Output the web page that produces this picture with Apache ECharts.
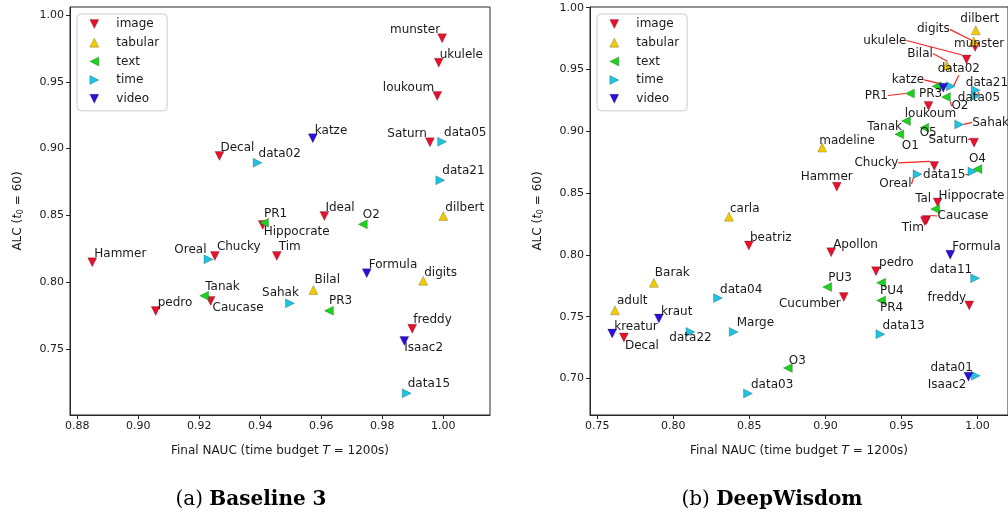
<!DOCTYPE html>
<html><head><meta charset="utf-8">
<script src="https://cdn.jsdelivr.net/npm/echarts/dist/echarts.min.js"></script>
<style>html,body{margin:0;padding:0;background:#fff}#c{width:1008px;height:520px}</style>
</head><body><div id="c"></div><script>
// ---------- categories ----------
const categories = ['image', 'tabular', 'text', 'time', 'video'];

// ---------- tick labels ----------
const xTicksA = [0.88, 0.90, 0.92, 0.94, 0.96, 0.98, 1.00];
const yTicksA = [0.75, 0.80, 0.85, 0.90, 0.95, 1.00];
const xTicksB = [0.75, 0.80, 0.85, 0.90, 0.95, 1.00];
const yTicksB = [0.70, 0.75, 0.80, 0.85, 0.90, 0.95, 1.00];

// ---------- (a) Baseline 3 : [name, final NAUC, ALC] ----------
const baseImage = [
  ['munster', 0.9996, 0.9826], ['ukulele', 0.9985, 0.9643], ['loukoum', 0.9980, 0.9394],
  ['Saturn', 0.9956, 0.9047], ['Decal', 0.9266, 0.8945], ['Ideal', 0.9610, 0.8496],
  ['Hippocrate', 0.9408, 0.8428], ['Hammer', 0.8849, 0.8149], ['Chucky', 0.9251, 0.8196],
  ['Tim', 0.9454, 0.8196], ['pedro', 0.9057, 0.7784], ['Caucase', 0.9237, 0.7859],
  ['freddy', 0.9898, 0.7652]
];
const baseTabular = [['dilbert', 1.0000, 0.8496], ['Bilal', 0.9574, 0.7942], ['digits', 0.9934, 0.8011]];
const baseText = [['PR1', 0.9412, 0.8445], ['O2', 0.9736, 0.8433], ['Tanak', 0.9216, 0.7899], ['PR3', 0.9625, 0.7787]];
const baseTime = [
  ['data05', 0.9996, 0.9052], ['data02', 0.9391, 0.8894], ['data21', 0.9990, 0.8763],
  ['Oreal', 0.9230, 0.8171], ['Sahak', 0.9497, 0.7842], ['data15', 0.9880, 0.7168]
];
const baseVideo = [['katze', 0.9572, 0.9077], ['Formula', 0.9749, 0.8067], ['Isaac2', 0.9872, 0.7560]];

// ---------- (b) DeepWisdom ----------
const dwImage = [
  ['munster', 0.9985, 0.9682], ['ukulele', 0.9928, 0.9581], ['loukoum', 0.9678, 0.9204],
  ['Saturn', 0.9978, 0.8908], ['Chucky', 0.9716, 0.8720], ['Hippocrate', 0.9738, 0.8424],
  ['Caucase', 0.9665, 0.8282], ['Tim', 0.9654, 0.8273], ['Hammer', 0.9075, 0.8551],
  ['beatriz', 0.8497, 0.8075], ['Decal', 0.7675, 0.7331], ['Apollon', 0.9038, 0.8021],
  ['pedro', 0.9333, 0.7868], ['Cucumber', 0.9121, 0.7658], ['freddy', 0.9946, 0.7591]
];
const dwTabular = [
  ['dilbert', 0.9989, 0.9817], ['digits', 0.9976, 0.9728], ['Bilal', 0.9799, 0.9532],
  ['madeline', 0.8979, 0.8868], ['carla', 0.8366, 0.8309], ['Barak', 0.7872, 0.7774],
  ['adult', 0.7616, 0.7551]
];
const dwText = [
  ['PR1', 0.9556, 0.9306], ['PR3', 0.9731, 0.9365], ['O2', 0.9793, 0.9277],
  ['Tanak', 0.9530, 0.9083], ['O1', 0.9486, 0.8976], ['O5', 0.9650, 0.9029],
  ['O4', 1.0000, 0.8694], ['Tal', 0.9722, 0.8371], ['PU3', 0.9012, 0.7739],
  ['PU4', 0.9366, 0.7774], ['PR4', 0.9366, 0.7631], ['O3', 0.8753, 0.7085]
];
const dwTime = [
  ['data02', 0.9825, 0.9365], ['data21', 0.9989, 0.9333], ['data05', 0.9989, 0.9285],
  ['Sahak', 0.9880, 0.9056], ['Oreal', 0.9606, 0.8653], ['data15', 0.9967, 0.8674],
  ['data11', 0.9985, 0.7811], ['data13', 0.9362, 0.7357], ['data01', 0.9989, 0.7021],
  ['data04', 0.8294, 0.7650], ['data22', 0.8113, 0.7376], ['Marge', 0.8397, 0.7376],
  ['data03', 0.8491, 0.6879]
];
const dwVideo = [
  ['katze', 0.9775, 0.9352], ['Formula', 0.9821, 0.8000], ['kraut', 0.7905, 0.7484],
  ['kreatur', 0.7598, 0.7363], ['Isaac2', 0.9941, 0.7013]
];

// ---------- label placement (align, dx, dy, leader line) ----------
const placeA = {
  munster: ['right', -2, -8], ukulele: ['left', 1, -8], loukoum: ['right', -3, -8], katze: ['left', 2, -7],
  Saturn: ['right', -3, -8], data05: ['left', 2, -9], data21: ['left', 2, -9], dilbert: ['left', 2, -8],
  Ideal: ['left', 1, -8], O2: ['left', 0, -9], data02: ['left', 1, -9], Decal: ['left', 1, -8],
  PR1: ['left', 0, -9], Hippocrate: ['left', 1, 7], Hammer: ['left', 2, -8], Oreal: ['right', -2, -9],
  Chucky: ['left', 2, -9], Tim: ['left', 2, -9], Tanak: ['left', 1, -9], Caucase: ['left', 2, 7],
  pedro: ['left', 2, -8], Formula: ['left', 2, -8], digits: ['left', 1, -8], Bilal: ['left', 1, -10],
  Sahak: ['right', 9, -10], PR3: ['left', 0, -10], freddy: ['left', 1, -9], Isaac2: ['left', 0, 7],
  data15: ['left', 1, -9]
};
const placeB = {
  carla: ['left', 1, -8], beatriz: ['left', 1, -8], Barak: ['left', 1, -10], adult: ['left', 2, -9],
  kraut: ['left', 2, -7], kreatur: ['left', 2, -7], Decal: ['left', 1, 8], data04: ['left', 2, -8],
  data22: ['center', 0, 6], Marge: ['left', 3, -9], O3: ['left', 1, -7], data03: ['left', 3, -9],
  Apollon: ['left', 2, -7], pedro: ['left', 3, -8], PU3: ['left', 1, -9], Cucumber: ['right', -3, 7],
  PU4: ['left', -1, 8], PR4: ['left', -1, 7], data13: ['left', 2, -8], Formula: ['left', 2, -8],
  data11: ['right', -3, -8], freddy: ['right', -3, -8], data01: ['right', -3, -8], Isaac2: ['right', -2, 8],
  madeline: ['left', -3, -7], Hammer: ['right', 16, -10], loukoum: ['center', 2, 8],
  Sahak: ['left', 13, -2, 1], Saturn: ['right', -6, -3, 1], O4: ['center', 0, -10], O5: ['center', 4, 5],
  PR1: ['right', -22, 2, 1], PR3: ['center', -6, 8], O2: ['center', 14, 9, 1], katze: ['right', -19, -8, 1],
  data02: ['center', 8, -17, 1], data21: ['left', -10, -7], data05: ['left', -18, 2, 1],
  Bilal: ['right', -14, -12, 1], ukulele: ['right', -60, -19, 1], digits: ['right', -24, -12, 1],
  dilbert: ['center', 4, -11], munster: ['center', 4, -3], Tanak: ['right', -4, 6], O1: ['center', 11, 12],
  Chucky: ['right', -36, -3, 1], Oreal: ['right', -6, 10, 1], data15: ['right', -7, 3, 1],
  Tal: ['right', -4, -10], Hippocrate: ['left', 1, -7], Caucase: ['left', 11, -4, 1], Tim: ['right', -1, 7]
};

// ---------- styles ----------
const FONT = 'DejaVu Sans';
const INK = '#1a1a1a';
const catStyle = {
  image:   { color: '#e8112d', rotate: 180, icon: 'path://M0,0L10,0L5,10Z' },
  tabular: { color: '#f2cc00', rotate: 0,   icon: 'path://M5,0L10,10L0,10Z' },
  text:    { color: '#1fd11f', rotate: 90,  icon: 'path://M0,5L10,0L10,10Z' },
  time:    { color: '#1ec3e0', rotate: -90, icon: 'path://M0,0L10,5L0,10Z' },
  video:   { color: '#2b0fd6', rotate: 180, icon: 'path://M0,0L10,0L5,10Z' }
};

function makeSeries(cat, list, place, gi) {
  const st = catStyle[cat];
  return {
    type: 'scatter', name: cat, xAxisIndex: gi, yAxisIndex: gi,
    symbol: 'triangle', symbolSize: 9, symbolRotate: st.rotate,
    itemStyle: { color: st.color, borderColor: 'rgba(0,0,0,0.35)', borderWidth: 0.6, opacity: 1 },
    data: list.map(d => ({
      name: d[0], value: [d[1], d[2]],
      labelLine: { show: !!(place[d[0]] && place[d[0]][3]) }
    })),
    label: {
      show: true, position: 'inside', formatter: '{b}', fontSize: 12, fontFamily: FONT,
      color: INK, textBorderWidth: 0, textBorderColor: 'transparent', verticalAlign: 'middle'
    },
    labelLine: { show: false, lineStyle: { color: '#ff2020', width: 1.2 } },
    labelLayout: p => {
      const pl = place[p.text] || ['left', 2, -8];
      return { dx: pl[1], dy: pl[2], align: pl[0], verticalAlign: 'middle' };
    },
    emphasis: { disabled: true },
    z: 3
  };
}

const axisCol = '#262626';
function xAxis(gi, min, max, ticks) {
  return {
    type: 'value', gridIndex: gi, min: min, max: max,
    splitLine: { show: false },
    axisLine: { show: true, onZero: false, lineStyle: { color: axisCol, width: 1 } },
    axisTick: { show: true, customValues: ticks, length: 4, lineStyle: { color: axisCol } },
    axisLabel: { customValues: ticks, formatter: v => v.toFixed(2), fontSize: 11, color: INK, margin: 6, fontFamily: FONT },
    name: '{n|Final NAUC (time budget }{i|T}{n| = 1200s)}',
    nameLocation: 'middle', nameGap: 30,
    nameTextStyle: { rich: {
      n: { fontSize: 12, fontFamily: FONT, color: INK },
      i: { fontSize: 12, fontFamily: FONT, fontStyle: 'italic', color: INK }
    } }
  };
}
function yAxis(gi, min, max, ticks) {
  return {
    type: 'value', gridIndex: gi, min: min, max: max,
    splitLine: { show: false },
    axisLine: { show: true, onZero: false, lineStyle: { color: axisCol, width: 1 } },
    axisTick: { show: true, customValues: ticks, length: 4, lineStyle: { color: axisCol } },
    axisLabel: { customValues: ticks, formatter: v => v.toFixed(2), fontSize: 11, color: INK, margin: 6, fontFamily: FONT },
    name: '{n|ALC (}{i|t}{s|0}{n| = 60)}',
    nameLocation: 'middle', nameGap: 45, nameRotate: 90,
    nameTextStyle: { rich: {
      n: { fontSize: 12, fontFamily: FONT, color: INK },
      i: { fontSize: 12, fontFamily: FONT, fontStyle: 'italic', color: INK },
      s: { fontSize: 8, fontFamily: FONT, color: INK, padding: [7, 0, 0, 0] }
    } }
  };
}
function legend(left) {
  return {
    orient: 'vertical', left: left, top: 14,
    data: categories.map(c => ({ name: c, icon: catStyle[c].icon })),
    itemWidth: 9, itemHeight: 9, itemGap: 4.7,
    padding: [3, 8, 5, 12.5],
    itemStyle: { borderColor: 'rgba(0,0,0,0.35)', borderWidth: 0.6 },
    borderColor: '#cccccc', borderWidth: 1, borderRadius: 4, backgroundColor: 'rgba(255,255,255,0.8)',
    textStyle: { fontSize: 12, fontFamily: FONT, color: INK, lineHeight: 14, padding: [0, 0, 0, 12.5] },
    selectedMode: false
  };
}

const series = [];
[[baseImage, 'image'], [baseTabular, 'tabular'], [baseText, 'text'], [baseTime, 'time'], [baseVideo, 'video']]
  .forEach(([l, c]) => series.push(makeSeries(c, l, placeA, 0)));
[[dwImage, 'image'], [dwTabular, 'tabular'], [dwText, 'text'], [dwTime, 'time'], [dwVideo, 'video']]
  .forEach(([l, c]) => series.push(makeSeries(c, l, placeB, 1)));

const chart = echarts.init(document.getElementById('c'), null, { renderer: 'canvas' });
chart.setOption({
  animation: false,
  backgroundColor: '#ffffff',
  grid: [
    { left: 70, top: 7, width: 420, height: 408, show: true, borderColor: axisCol, borderWidth: 1, backgroundColor: 'transparent' },
    { left: 590, top: 7, width: 419, height: 408, show: true, borderColor: axisCol, borderWidth: 1, backgroundColor: 'transparent' }
  ],
  xAxis: [xAxis(0, 0.8776, 1.0153, xTicksA), xAxis(1, 0.7452, 1.0201, xTicksB)],
  yAxis: [yAxis(0, 0.7006, 1.006, yTicksA), yAxis(1, 0.6704, 1.0006, yTicksB)],
  legend: [legend(77), legend(597)],
  series: series,
  graphic: [
    { type: 'text', x: 251, y: 500, style: {
      text: '{n|(a) }{b|Baseline 3}', align: 'center', verticalAlign: 'middle',
      rich: { n: { fontSize: 20, fontFamily: 'DejaVu Serif', fill: '#000' }, b: { fontSize: 20, fontFamily: 'DejaVu Serif', fontWeight: 'bold', fill: '#000' } } } },
    { type: 'text', x: 772, y: 500, style: {
      text: '{n|(b) }{b|DeepWisdom}', align: 'center', verticalAlign: 'middle',
      rich: { n: { fontSize: 20, fontFamily: 'DejaVu Serif', fill: '#000' }, b: { fontSize: 20, fontFamily: 'DejaVu Serif', fontWeight: 'bold', fill: '#000' } } } }
  ]
});
</script></body></html>
